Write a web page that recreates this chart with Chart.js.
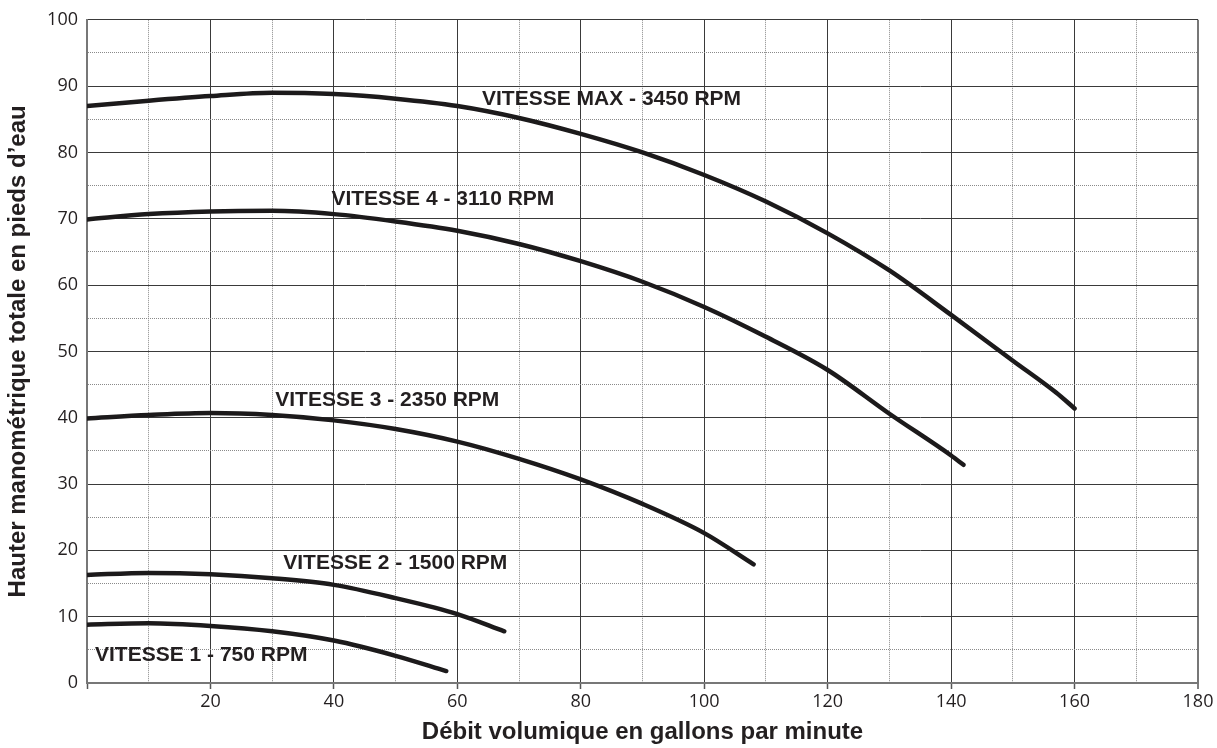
<!DOCTYPE html>
<html>
<head>
<meta charset="utf-8">
<script src="https://cdn.jsdelivr.net/npm/chart.js@4/dist/chart.umd.min.js"></script>
<style>
  html, body { margin: 0; padding: 0; background: #ffffff; }
  #wrap { width: 1217px; height: 748px; }
</style>
</head>
<body>
<div id="wrap"><canvas id="c" width="1217" height="748"></canvas></div>
<script>
// ---- Data ----
const maxFlow  = [0, 10, 20, 30, 40, 50, 60, 70, 80, 90, 100, 110, 120, 130, 140, 150, 157, 160];
const maxHead  = [87, 87.8, 88.5, 89, 88.8, 88.1, 87, 85.2, 82.8, 80, 76.6, 72.6, 67.8, 62.2, 55.5, 48.6, 43.8, 41.4];

const v4Flow   = [0, 10, 20, 30, 40, 50, 60, 70, 80, 90, 100, 110, 120, 130, 140, 142];
const v4Head   = [69.9, 70.7, 71.1, 71.2, 70.7, 69.6, 68.2, 66.2, 63.6, 60.5, 56.7, 52.2, 47.2, 40.6, 34.3, 32.9];

const v3Flow   = [0, 10, 20, 30, 40, 50, 60, 70, 80, 90, 100, 108];
const v3Head   = [39.9, 40.4, 40.7, 40.4, 39.6, 38.3, 36.4, 33.8, 30.7, 27, 22.6, 17.9];

const v2Flow   = [0, 10, 20, 30, 40, 50, 60, 67.6];
const v2Head   = [16.3, 16.6, 16.4, 15.8, 14.8, 12.8, 10.4, 7.8];

const v1Flow   = [0, 10, 20, 30, 40, 50, 58.2];
const v1Head   = [8.8, 9.0, 8.6, 7.8, 6.4, 4.1, 1.8];

const curveLabels = ["VITESSE MAX - 3450 RPM", "VITESSE 4 - 3110 RPM", "VITESSE 3 - 2350 RPM", "VITESSE 2 - 1500 RPM", "VITESSE 1 - 750 RPM"];
const labelFlow   = [64.0, 39.6, 30.5, 31.8, 1.3];
const labelHead   = [88.1, 73.0, 42.6, 18.0, 4.2];

const xTitle = "Débit volumique en gallons par minute";
const yTitle = "Hauter manométrique totale en pieds d\u2019eau";
const xMin = 0, xMax = 180, xStep = 10, xLabelStep = 20;
const yMin = 0, yMax = 100, yStep = 5, yLabelStep = 10;

// ---- Build datasets ----
function pts(xs, ys) { return xs.map((x, i) => ({ x: x, y: ys[i] })); }
const series = [pts(maxFlow, maxHead), pts(v4Flow, v4Head), pts(v3Flow, v3Head), pts(v2Flow, v2Head), pts(v1Flow, v1Head)];

const INK = '#231f20';
const datasets = series.map((d, i) => ({
  label: curveLabels[i],
  data: d,
  borderColor: '#1c1a1b',
  borderWidth: 4.5,
  borderCapStyle: 'round',
  borderJoinStyle: 'round',
  pointRadius: 0,
  cubicInterpolationMode: 'monotone',
  fill: false
}));

const labelPlugin = {
  id: 'curveLabels',
  afterDatasetsDraw(chart) {
    const ctx = chart.ctx;
    const xs = chart.scales.x, ys = chart.scales.y;
    ctx.save();
    ctx.fillStyle = INK;
    ctx.font = 'bold 21px "Liberation Sans", Arial, sans-serif';
    ctx.textAlign = 'left';
    ctx.textBaseline = 'middle';
    curveLabels.forEach((t, i) => {
      ctx.fillText(t, xs.getPixelForValue(labelFlow[i]), ys.getPixelForValue(labelHead[i]));
    });
    ctx.restore();
  }
};

new Chart(document.getElementById('c'), {
  type: 'line',
  data: { datasets: datasets },
  plugins: [labelPlugin],
  options: {
    responsive: false,
    devicePixelRatio: 1,
    animation: false,
    events: [],
    layout: { padding: { top: 19, right: 19, left: 0, bottom: 0 } },
    plugins: { legend: { display: false }, tooltip: { enabled: false }, title: { display: false } },
    scales: {
      x: {
        type: 'linear',
        min: xMin, max: xMax,
        afterFit(s) { s.height = 65; },
        ticks: {
          stepSize: xStep,
          autoSkip: false,
          maxRotation: 0,
          padding: 2,
          color: INK,
          font: { family: '"Open Sans", "Noto Sans", sans-serif', size: 18 },
          callback: (v) => (v % xLabelStep === 0 && v !== 0) ? String(v) : ''
        },
        grid: {
          color: (c) => {
            const v = c.tick ? c.tick.value : 0;
            if (v === xMax) return '#777777';
            return v % xLabelStep === 0 ? '#3a3a3a' : '#8a8a8a';
          },
          lineWidth: (c) => (c.tick && c.tick.value === xMax) ? 2 : 1,
          tickLength: 6,
          tickWidth: 1.5,
          tickColor: (c) => (c.tick && c.tick.value % xLabelStep === 0) ? '#555555' : 'rgba(0,0,0,0)'
        },
        border: {
          display: true, color: '#777777', width: 2,
          dash: (c) => (c.tick && c.tick.value % xLabelStep !== 0) ? [1, 1] : []
        },
        title: {
          display: true, text: xTitle, color: INK,
          font: { family: '"Liberation Sans", Arial, sans-serif', size: 24, weight: 'bold' },
          padding: { top: 0, bottom: 1 }
        }
      },
      y: {
        type: 'linear',
        min: yMin, max: yMax,
        afterFit(s) { s.width = 87; },
        ticks: {
          stepSize: yStep,
          autoSkip: false,
          padding: 9,
          color: INK,
          font: { family: '"Open Sans", "Noto Sans", sans-serif', size: 18 },
          callback: (v) => (v % yLabelStep === 0) ? String(v) : ''
        },
        grid: {
          drawTicks: false,
          color: (c) => {
            const v = c.tick ? c.tick.value : 0;
            return v % yLabelStep === 0 ? '#3a3a3a' : '#8a8a8a';
          },
          lineWidth: 1
        },
        border: {
          display: true, color: '#777777', width: 2,
          dash: (c) => (c.tick && c.tick.value % yLabelStep !== 0) ? [1, 1] : []
        },
        title: {
          display: true, text: yTitle, color: INK,
          font: { family: '"Liberation Sans", Arial, sans-serif', size: 24, weight: 'bold' },
          padding: { top: 4, bottom: 0 }
        }
      }
    }
  }
});
</script>
</body>
</html>
